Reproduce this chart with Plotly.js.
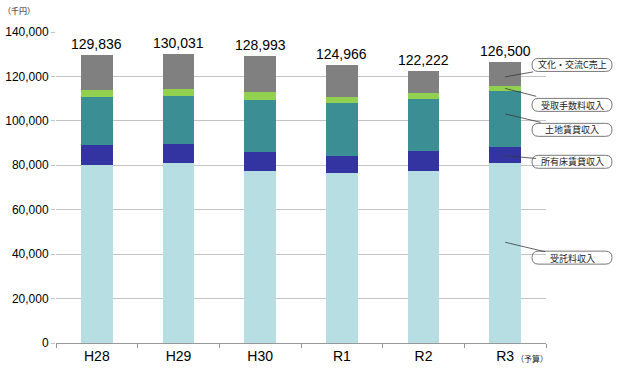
<!DOCTYPE html>
<html><head><meta charset="utf-8">
<script src="https://cdn.plot.ly/plotly-3.0.1.min.js"></script>
<style>html,body{margin:0;padding:0;background:#fff}#chart{width:620px;height:375px}</style>
</head><body><div id="chart"></div>
<script>
const categories = ['H28','H29','H30','R1','R2','R3'];
const totals = [129836, 130031, 128993, 124966, 122222, 126500];
const itaku = [80200, 81000, 77500, 76600, 77500, 81000];      // 受託料収入
const shoyu = [9000, 8650, 8600, 7800, 9000, 7200];            // 所有床賃貸収入
const tochi = [21600, 21750, 23500, 23550, 23400, 25300];      // 土地賃貸収入
const tesu  = [3000, 2800, 3300, 2950, 2700, 2200];            // 受取手数料収入
const bunka = totals.map((t,i)=> t - itaku[i] - shoyu[i] - tochi[i] - tesu[i]); // 文化・交流C売上
const seriesNames = ['受託料収入','所有床賃貸収入','土地賃貸収入','受取手数料収入','文化・交流C売上'];
const seriesVals = [itaku, shoyu, tochi, tesu, bunka];
const colors = ['#b7dfe3','#3333a1','#3a8e94','#92d050','#808080'];

const traces = seriesVals.map((v,k)=>({
  type:'bar', x:categories, y:v, name:seriesNames[k],
  marker:{color:colors[k], line:{width:0}}, hoverinfo:'skip'
}));

const L=56, R=74, T=32, B=31.5, W=620, H=375;
const pw = W-L-R, ph = H-T-B;
const px2x = p => (p-L)/pw;
const py2y = p => (H-B-p)/ph;

const annotations = [];
const fontJP = '"Noto Sans CJK JP", "Liberation Sans", sans-serif';
const fontEN = '"Liberation Sans", Arial, sans-serif';
categories.forEach((c,i)=>{
  annotations.push({x:c, y:totals[i], text:totals[i].toLocaleString('en-US'), showarrow:false,
    yanchor:'bottom', yshift:1, font:{family:fontEN, size:14, color:'#000'}});
});
// callout labels for last bar
const last = categories.length-1;
const frac = [0.56, 0.46, 0.59, 0.5, 0.38];
const boxCy = [258, 162, 130, 105, 65];
const headPy = [242, 156, 114, 88, 77];
const shapes = [];
let base = 0;
seriesVals.forEach((v,k)=>{
  const yHead = base + v[last]*frac[k];
  base += v[last];
  annotations.push({x:categories[last], y:yHead, text:seriesNames[k], showarrow:true,
    arrowhead:0, arrowwidth:0.8, arrowcolor:'#3a3a3a', ax:67, ay:boxCy[k]-headPy[k],
    borderpad:4, font:{family:fontJP, size:9, color:'#222'}});
  const x0=px2x(532), x1=px2x(612), y0=py2y(boxCy[k]+6.5), y1=py2y(boxCy[k]-6.5);
  const rx=6.5/pw, ry=6.5/ph;
  shapes.push({type:'path', xref:'paper', yref:'paper', layer:'above',
    path:`M ${x0+rx},${y0} L ${x1-rx},${y0} Q ${x1},${y0} ${x1},${y0+ry} L ${x1},${y1-ry} Q ${x1},${y1} ${x1-rx},${y1} L ${x0+rx},${y1} Q ${x0},${y1} ${x0},${y1-ry} L ${x0},${y0+ry} Q ${x0},${y0} ${x0+rx},${y0} Z`,
    line:{color:'#555', width:0.8}, fillcolor:'rgba(255,255,255,0)'});
});
annotations.push({xref:'paper', yref:'paper', x:px2x(19), y:py2y(10), xanchor:'center', yanchor:'middle',
  text:'（千円）', showarrow:false, font:{family:fontJP, size:8, color:'#222'}});
annotations.push({xref:'paper', yref:'paper', x:px2x(532), y:py2y(359), xanchor:'center', yanchor:'middle',
  text:'（予算）', showarrow:false, font:{family:fontJP, size:8, color:'#222'}});

const layout = {
  width:W, height:H, margin:{l:L, r:R, t:T, b:B, autoexpand:false}, barmode:'stack', bargap:0.61,
  showlegend:false, paper_bgcolor:'#fff', plot_bgcolor:'#fff',
  xaxis:{type:'category', range:[-0.5, categories.length-0.5], autorange:false, showgrid:false, showline:true, linecolor:'#999', linewidth:1,
    ticks:'outside', tickson:'boundaries', ticklen:4, tickcolor:'#999', automargin:false,
    tickfont:{family:fontEN, size:14, color:'#000'}},
  yaxis:{range:[0,140000], autorange:false, dtick:20000, tickformat:',d', showgrid:true, gridcolor:'#c4c4c4', gridwidth:1,
    zeroline:false, showline:false, ticks:'outside', ticklen:4, tickcolor:'#c4c4c4', automargin:false,
    tickfont:{family:fontEN, size:12, color:'#000'}},
  annotations, shapes
};
Plotly.newPlot('chart', traces, layout, {displayModeBar:false, staticPlot:true});
</script></body></html>
